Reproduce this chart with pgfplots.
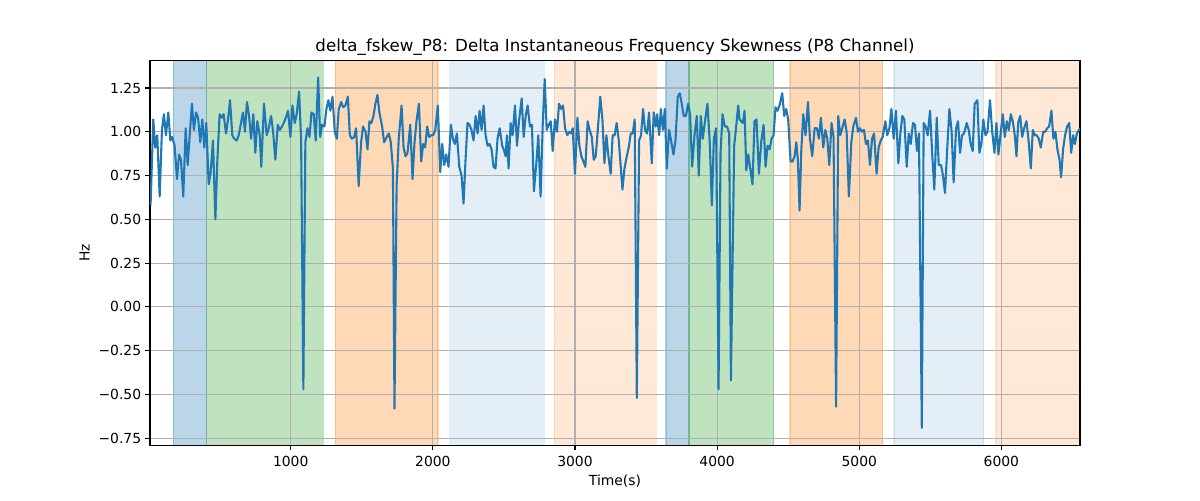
\documentclass[border=0pt]{standalone}
\usepackage{fontspec}
\setmainfont{DejaVu Sans}
\usepackage{pgfplots}
\pgfplotsset{compat=1.18}
\definecolor{tabblue}{HTML}{1F77B4}
\definecolor{tabgreen}{HTML}{2CA02C}
\definecolor{taborange}{HTML}{FF7F0E}
\definecolor{gridgray}{HTML}{B0B0B0}
\pgfplotsset{base/.style={
  at={(108pt,39.4pt)}, anchor=south west,
  scale only axis, width=669.6pt, height=277.2pt,
  xmin=10, xmax=6553, ymin=-0.79, ymax=1.408}}
\begin{document}
\begin{tikzpicture}
\path[use as bounding box] (0,0) rectangle (864pt,360pt);
% shaded intervals (behind the grid)
\begin{axis}[base, hide axis]
\addplot[fill=tabblue, draw=tabblue, fill opacity=0.3, draw opacity=0.3, line width=1pt, forget plot] coordinates {(174,-0.79) (174,1.408) (409,1.408) (409,-0.79)};
\addplot[fill=tabgreen, draw=tabgreen, fill opacity=0.3, draw opacity=0.3, line width=1pt, forget plot] coordinates {(409,-0.79) (409,1.408) (1230,1.408) (1230,-0.79)};
\addplot[fill=taborange, draw=taborange, fill opacity=0.3, draw opacity=0.3, line width=1pt, forget plot] coordinates {(1315,-0.79) (1315,1.408) (2035,1.408) (2035,-0.79)};
\addplot[fill=tabblue, draw=tabblue, fill opacity=0.12, draw opacity=0.12, line width=1pt, forget plot] coordinates {(2118,-0.79) (2118,1.408) (2784,1.408) (2784,-0.79)};
\addplot[fill=taborange, draw=taborange, fill opacity=0.17, draw opacity=0.17, line width=1pt, forget plot] coordinates {(2855,-0.79) (2855,1.408) (3573,1.408) (3573,-0.79)};
\addplot[fill=tabblue, draw=tabblue, fill opacity=0.3, draw opacity=0.3, line width=1pt, forget plot] coordinates {(3639,-0.79) (3639,1.408) (3803,1.408) (3803,-0.79)};
\addplot[fill=tabgreen, draw=tabgreen, fill opacity=0.3, draw opacity=0.3, line width=1pt, forget plot] coordinates {(3803,-0.79) (3803,1.408) (4397,1.408) (4397,-0.79)};
\addplot[fill=taborange, draw=taborange, fill opacity=0.3, draw opacity=0.3, line width=1pt, forget plot] coordinates {(4512,-0.79) (4512,1.408) (5165,1.408) (5165,-0.79)};
\addplot[fill=tabblue, draw=tabblue, fill opacity=0.12, draw opacity=0.12, line width=1pt, forget plot] coordinates {(5244,-0.79) (5244,1.408) (5876,1.408) (5876,-0.79)};
\addplot[fill=taborange, draw=taborange, fill opacity=0.17, draw opacity=0.17, line width=1pt, forget plot] coordinates {(5963,-0.79) (5963,1.408) (6553,1.408) (6553,-0.79)};
\end{axis}
\begin{axis}[base,
  axis line style={line width=0.8pt},
  grid=major, grid style={gridgray, line width=0.8pt},
  tick align=outside, tick pos=left,
  tick style={black, line width=0.8pt}, major tick length=3.5pt,
  xtick={1000,2000,3000,4000,5000,6000},
  xticklabels={1000,2000,3000,4000,5000,6000},
  ytick={-0.75,-0.5,-0.25,0,0.25,0.5,0.75,1,1.25},
  yticklabels={−0.75,−0.50,−0.25,0.00,0.25,0.50,0.75,1.00,1.25},
  /pgf/number format/assume math mode=true,
  ticklabel style={font=\fontsize{10}{12}\selectfont},
  xticklabel style={anchor=base, yshift=-11.9pt},
  yticklabel style={anchor=east, inner sep=0pt, xshift=-2.7pt},
  title={delta\_fskew\_P8: Delta Instantaneous Frequency Skewness (P8 Channel)},
  title style={font=\fontsize{12}{14.4}\selectfont, at={(axis description cs:0.5,1.0012)}, anchor=base, yshift=0pt},
  xlabel={Time(s)}, ylabel={Hz},
  label style={font=\fontsize{10}{12}\selectfont},
  xlabel style={at={(axis description cs:0.5,-0.1046)}, anchor=base},
  ylabel style={at={(axis description cs:-0.065,0.5)}, anchor=base},
]
\addplot[tabblue, line width=1.5pt, line join=round, mark=none] coordinates {
(14,0.58) (33,1.07) (47,0.91) (61,0.98) (78,0.63) (94,1.01) (108,1.10) (122,0.98) (139,1.11) (153,0.95)
(167,0.97) (183,0.92) (200,0.73) (214,0.87) (228,0.84) (244,0.63) (261,1.02) (275,0.81) (291,1.00) (305,1.16)
(319,1.01) (334,1.11) (348,1.08) (364,0.94) (378,1.07) (392,0.91) (406,1.05) (423,0.70) (437,0.77) (453,0.95)
(470,0.50) (484,0.84) (500,1.10) (514,1.08) (528,1.10) (545,0.99) (559,1.07) (573,1.18) (589,0.98) (603,0.96)
(620,0.95) (634,0.98) (648,1.04) (664,1.11) (678,1.00) (692,1.17) (707,1.09) (721,0.96) (737,1.10) (751,0.88)
(765,1.06) (782,0.98) (793,0.80) (812,1.16) (831,0.98) (845,1.02) (862,1.09) (876,1.00) (892,0.84) (909,1.04)
(923,1.01) (939,1.03) (956,1.06) (970,1.09) (981,1.12) (998,0.97) (1012,1.15) (1028,1.05) (1042,1.10) (1059,1.23)
(1073,0.96) (1089,-0.47) (1103,0.94) (1118,1.02) (1132,0.97) (1146,1.11) (1162,1.10) (1176,0.95) (1193,1.31) (1207,0.97)
(1221,1.04) (1237,1.03) (1251,1.13) (1265,1.18) (1279,1.12) (1294,1.20) (1310,1.00) (1324,0.96) (1338,1.13) (1355,1.17)
(1369,1.14) (1385,1.15) (1402,1.20) (1416,0.98) (1430,0.96) (1446,0.97) (1460,1.02) (1478,0.69) (1495,0.94) (1509,1.03)
(1526,1.00) (1540,0.90) (1554,1.06) (1568,1.05) (1582,1.09) (1596,1.16) (1610,1.21) (1624,1.11) (1643,1.03) (1657,0.94)
(1676,0.97) (1690,0.99) (1704,0.94) (1719,0.79) (1730,-0.58) (1745,0.69) (1760,0.96) (1780,1.15) (1794,0.91) (1808,0.86)
(1822,0.88) (1841,1.04) (1857,0.73) (1871,0.94) (1885,1.06) (1902,1.16) (1918,0.83) (1932,0.93) (1946,0.91) (1960,1.03)
(1974,0.97) (1988,0.98) (2002,0.98) (2017,1.01) (2035,1.15) (2052,0.77) (2066,0.93) (2080,0.81) (2094,0.87) (2110,0.80)
(2127,1.04) (2141,0.96) (2155,0.93) (2169,0.99) (2186,0.80) (2202,0.75) (2216,0.59) (2230,0.84) (2244,1.05) (2258,1.04)
(2272,1.01) (2286,0.95) (2301,1.09) (2315,0.99) (2329,1.12) (2343,1.01) (2357,1.15) (2371,0.98) (2385,0.92) (2399,0.93)
(2413,0.90) (2427,0.80) (2441,0.79) (2455,0.96) (2470,1.02) (2488,0.92) (2498,0.90) (2512,0.86) (2521,0.98) (2533,0.79)
(2547,1.05) (2561,0.98) (2578,1.15) (2592,0.92) (2606,1.06) (2625,1.19) (2639,0.97) (2653,1.09) (2667,1.15) (2683,1.03)
(2697,1.04) (2711,0.66) (2728,0.82) (2742,0.98) (2758,0.63) (2773,1.04) (2787,1.30) (2801,1.01) (2815,1.04) (2829,1.06)
(2843,0.89) (2859,1.07) (2873,1.00) (2888,1.16) (2902,1.13) (2916,1.15) (2930,1.02) (2946,0.98) (2960,1.00) (2974,0.99)
(2984,1.02) (3000,0.76) (3017,1.08) (3031,0.92) (3045,0.86) (3059,0.83) (3073,0.80) (3089,1.06) (3103,1.01) (3118,0.97)
(3132,0.84) (3146,0.86) (3162,1.03) (3178,1.20) (3193,1.07) (3207,0.82) (3221,0.98) (3235,0.86) (3251,0.76) (3265,0.98)
(3279,0.98) (3293,1.05) (3308,0.95) (3334,0.67) (3348,0.79) (3362,0.85) (3378,0.91) (3392,0.99) (3406,0.99) (3420,1.07)
(3435,-0.52) (3451,0.95) (3465,0.98) (3479,1.13) (3493,1.01) (3507,0.99) (3521,1.11) (3540,0.82) (3554,1.11) (3568,1.03)
(3578,1.10) (3592,0.98) (3604,1.13) (3618,1.01) (3632,1.13) (3646,0.79) (3662,1.01) (3676,0.95) (3693,0.87) (3707,0.95)
(3723,1.20) (3737,1.22) (3751,1.16) (3765,1.09) (3780,1.09) (3796,1.16) (3810,1.10) (3824,0.80) (3841,0.98) (3857,1.09)
(3871,0.75) (3885,1.09) (3899,0.96) (3916,1.07) (3932,1.16) (3948,0.94) (3963,0.58) (3977,0.96) (3993,1.02) (4010,-0.47)
(4024,0.88) (4038,1.10) (4054,1.03) (4070,1.03) (4085,0.99) (4097,-0.42) (4120,0.92) (4134,1.03) (4148,1.15) (4158,1.07)
(4169,1.06) (4181,1.05) (4193,1.12) (4205,0.78) (4219,0.87) (4233,0.79) (4249,0.70) (4263,1.06) (4277,1.07) (4294,0.76)
(4310,0.94) (4327,1.04) (4341,0.80) (4355,0.92) (4369,0.90) (4383,0.96) (4397,0.98) (4411,1.14) (4425,1.12) (4439,1.15)
(4458,1.22) (4472,1.09) (4486,1.13) (4500,1.07) (4517,0.83) (4531,0.83) (4545,0.86) (4557,0.94) (4568,0.84) (4580,0.55)
(4592,0.89) (4606,1.10) (4622,0.98) (4639,1.17) (4653,0.96) (4669,0.86) (4686,1.02) (4702,1.02) (4716,0.96) (4730,1.08)
(4747,0.91) (4761,1.01) (4775,0.96) (4789,0.81) (4805,1.05) (4819,0.97) (4837,-0.57) (4852,1.09) (4866,0.98) (4880,1.02)
(4897,1.07) (4911,1.00) (4927,0.63) (4944,0.94) (4958,1.03) (4977,1.08) (4991,1.00) (5005,1.02) (5019,1.00) (5033,1.01)
(5047,0.93) (5061,0.95) (5075,0.81) (5090,0.96) (5104,0.99) (5122,0.76) (5136,0.91) (5151,0.95) (5165,0.97) (5183,1.06)
(5197,0.98) (5212,1.02) (5226,1.13) (5242,0.96) (5258,1.12) (5275,0.82) (5289,0.99) (5303,1.09) (5317,1.07) (5334,0.80)
(5348,0.99) (5362,0.93) (5378,1.05) (5392,1.04) (5406,0.89) (5420,0.99) (5440,-0.69) (5453,1.05) (5467,1.03) (5481,0.98)
(5498,1.12) (5514,0.86) (5528,0.67) (5545,1.08) (5559,0.81) (5575,0.81) (5589,0.75) (5603,0.65) (5620,0.92) (5634,1.13)
(5650,1.00) (5664,0.71) (5681,1.02) (5695,1.06) (5709,0.88) (5723,0.98) (5737,0.99) (5756,1.05) (5770,1.01) (5784,0.93)
(5798,0.89) (5812,1.16) (5831,1.18) (5845,0.88) (5859,0.93) (5873,1.07) (5888,0.98) (5902,1.00) (5920,1.18) (5934,1.01)
(5951,0.88) (5965,1.05) (5979,0.87) (5996,1.00) (6010,1.10) (6024,0.97) (6038,1.06) (6052,1.01) (6066,1.10) (6080,1.06)
(6094,0.98) (6106,0.86) (6118,1.05) (6132,1.09) (6146,0.97) (6160,1.02) (6176,1.06) (6190,0.96) (6207,0.79) (6221,1.01)
(6235,0.98) (6249,0.98) (6263,0.96) (6277,0.91) (6294,1.00) (6308,1.00) (6322,1.02) (6336,1.03) (6352,1.12) (6366,0.96)
(6380,1.00) (6394,0.90) (6409,0.84) (6420,0.74) (6434,0.90) (6448,0.98) (6462,1.03) (6477,1.05) (6491,0.88) (6505,0.98)
(6517,0.93) (6531,0.99) (6545,1.01) (6553,1.02)
};
\end{axis}
\end{tikzpicture}
\end{document}
